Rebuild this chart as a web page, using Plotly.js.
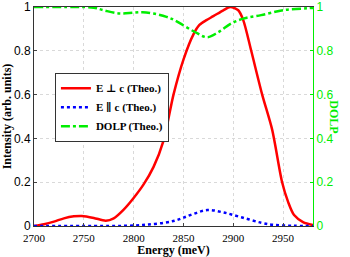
<!DOCTYPE html>
<html><head><meta charset="utf-8">
<script src="https://cdn.plot.ly/plotly-3.0.1.min.js"></script>
<style>body{margin:0;padding:0;background:#fff}#c{width:350px;height:257px}</style>
</head><body><div id="c"></div>
<script>
const perpX = [2700,2710,2720,2730,2740,2748,2760,2772,2780,2790,2800,2810,2820,2830,2840,2850,2860,2866,2873,2880,2890,2897,2905,2910,2918,2929,2939,2949,2955,2961,2970,2980];
const perpY = [0,0.008,0.02,0.035,0.044,0.046,0.037,0.024,0.035,0.075,0.128,0.19,0.27,0.39,0.6,0.76,0.875,0.918,0.94,0.958,0.985,1.0,0.985,0.94,0.8,0.6,0.44,0.2,0.11,0.05,0.018,0.004];
const parX = [2700,2780,2800,2815,2831,2841,2850,2860,2874,2890,2908,2928,2941,2960,2980];
const parY = [0,0,0.002,0.007,0.015,0.024,0.038,0.055,0.073,0.062,0.04,0.015,0.005,0.001,0];
const dolpX = [2700,2740,2760,2770,2786,2800,2809,2820,2833,2841,2861,2874,2885,2898,2911,2928,2951,2974,2980];
const dolpY = [1,1,0.997,0.985,0.97,0.974,0.976,0.97,0.955,0.94,0.887,0.862,0.885,0.925,0.948,0.963,0.986,0.994,0.996];
const xTicks = [2700,2750,2800,2850,2900,2950];
const yTicks = [0,0.2,0.4,0.6,0.8,1];
const yTickText = ['0','0.2','0.4','0.6','0.8','1'];
const names = ['E \u22A5 c (Theo.)','E \u2225 c (Theo.)','DOLP (Theo.)'];

const serif = 'Liberation Serif, DejaVu Serif, serif';
const sans = 'Liberation Sans, Arial, sans-serif';
const traces = [
  {x: perpX, y: perpY, name: names[0], mode:'lines', line:{color:'#ff0000', width:2.5, shape:'spline', smoothing:0.8}},
  {x: parX, y: parY, name: names[1], mode:'lines', line:{color:'#0000ff', width:2.5, dash:'dot', shape:'spline'}},
  {x: dolpX, y: dolpY, name: names[2], mode:'lines', yaxis:'y2', line:{color:'#00ee00', width:2.5, dash:'dashdot', shape:'spline'}}
];
const layout = {
  width:350, height:257,
  margin:{l:34, r:37, t:7, b:31},
  paper_bgcolor:'#fff', plot_bgcolor:'#fff',
  showlegend:true,
  legend:{x:0.075, y:0.70, xanchor:'left', yanchor:'top', bgcolor:'#fff', bordercolor:'#333', borderwidth:1,
    font:{family:serif, size:11, color:'#000', weight:'bold'}, tracegroupgap:0, itemwidth:30},
  xaxis:{range:[2700,2980], tickvals:xTicks, ticktext:xTicks.map(String), ticks:'inside', ticklen:3,
    showline:true, linecolor:'#333', linewidth:1, mirror:true, showgrid:true, gridcolor:'#d9d9d9', griddash:'dot',
    zeroline:false, tickfont:{family:serif, size:11, color:'#000'}, ticklabelstandoff:2,
    title:{text:'<b>Energy (meV)</b>', font:{family:serif, size:12, color:'#000'}, standoff:1}},
  yaxis:{range:[0,1], tickvals:yTicks, ticktext:yTickText, ticks:'inside', ticklen:3,
    showline:true, linecolor:'#333', linewidth:1, showgrid:true, gridcolor:'#d9d9d9', griddash:'dot',
    zeroline:false, tickfont:{family:sans, size:12, color:'#000'},
    title:{text:'<b>Intensity (arb. units)</b>', font:{family:serif, size:12, color:'#000'}, standoff:2}},
  yaxis2:{range:[0,1], overlaying:'y', side:'right', tickvals:yTicks, ticktext:yTickText, ticks:'inside', ticklen:3,
    showline:true, linecolor:'#00ee00', linewidth:1, showgrid:false, zeroline:false,
    tickfont:{family:sans, size:12, color:'#00ee00'}, tickcolor:'#00ee00'},
  annotations:[{text:'<b>DOLP</b>', xref:'paper', yref:'paper', x:1.108, y:0.5, showarrow:false, textangle:90,
    font:{family:serif, size:12, color:'#00ee00'}}]
};
Plotly.newPlot('c', traces, layout, {staticPlot:true, displayModeBar:false});
</script></body></html>
